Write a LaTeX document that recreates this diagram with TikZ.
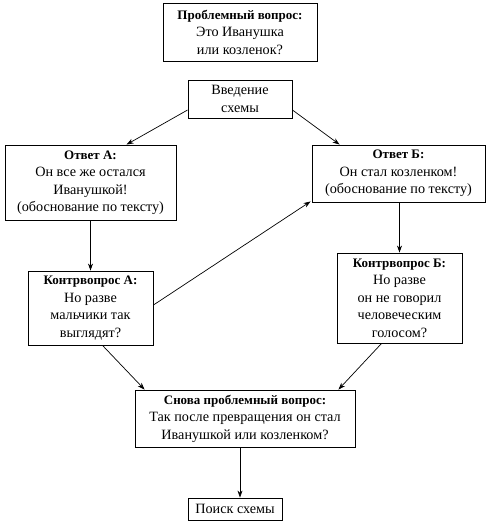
\documentclass[tikz,border=0pt]{standalone}
\usepackage{fontspec}
\setmainfont{Liberation Serif}
\usetikzlibrary{arrows.meta,calc}
\newcommand{\hd}[1]{{\fontsize{13}{17.5}\selectfont\bfseries #1}}
\begin{document}
\begin{tikzpicture}[x=1pt,y=-1pt,
  box/.style={draw,line width=0.9pt,align=center,inner sep=1pt,font=\fontsize{14.2}{17.5}\selectfont},
  arr/.style={line width=0.7pt,-{Stealth[length=7pt,width=5pt]}}]
\useasboundingbox (0,0) rectangle (490,523);
\node[box,minimum width=154pt,minimum height=58pt] (top) at (240,32) {\hd{Проблемный вопрос:}\\Это Иванушка\\или козленок?};
\node[box,minimum width=104pt,minimum height=38pt] (intro) at (240,99) {Введение\\схемы};
\node[box,minimum width=171pt,minimum height=75pt] (ansA) at (90.5,182.5) {\hd{Ответ А:}\\Он все же остался\\Иванушкой!\\(обоснование по тексту)};
\node[box,minimum width=173pt,minimum height=57pt] (ansB) at (398.5,173.5) {\hd{Ответ Б:}\\Он стал козленком!\\(обоснование по тексту)};
\node[box,minimum width=125pt,minimum height=74pt] (conA) at (90.5,308) {\hd{Контрвопрос А:}\\Но разве\\мальчики так\\выглядят?};
\node[box,minimum width=125pt,minimum height=90pt] (conB) at (399.5,298) {\hd{Контрвопрос Б:}\\Но разве\\он не говорил\\человеческим\\голосом?};
\node[box,minimum width=220pt,minimum height=57pt] (again) at (245,418.5) {\hd{Снова проблемный вопрос:}\\Так после превращения он стал\\Иванушкой или козленком?};
\node[box,minimum width=94pt,minimum height=22pt] (search) at (235,509) {Поиск схемы};
\coordinate (s1) at ($(again.south)+(-5,0)$);
\draw[arr] ($(intro.west)+(0,11)$) -- ($(ansA.north west)+(122,0)$);
\draw[arr] ($(intro.east)+(0,11)$) -- ($(ansB.north west)+(28,0)$);
\draw[arr] (ansA.south) -- (ansA.south |- conA.north);
\draw[arr] (conB.north |- ansB.south) -- (conB.north);
\draw[arr] ($(conA.east)+(0,-3)$) -- ($(ansB.south west)+(-1,-1)$);
\draw[arr] ($(conA.south west)+(75,0)$) -- ($(again.north west)+(10,0)$);
\draw[arr] ($(conB.south west)+(45,0)$) -- ($(again.north east)+(-17,0)$);
\draw[arr] (s1) -- (s1 |- search.north);
\end{tikzpicture}
\end{document}
